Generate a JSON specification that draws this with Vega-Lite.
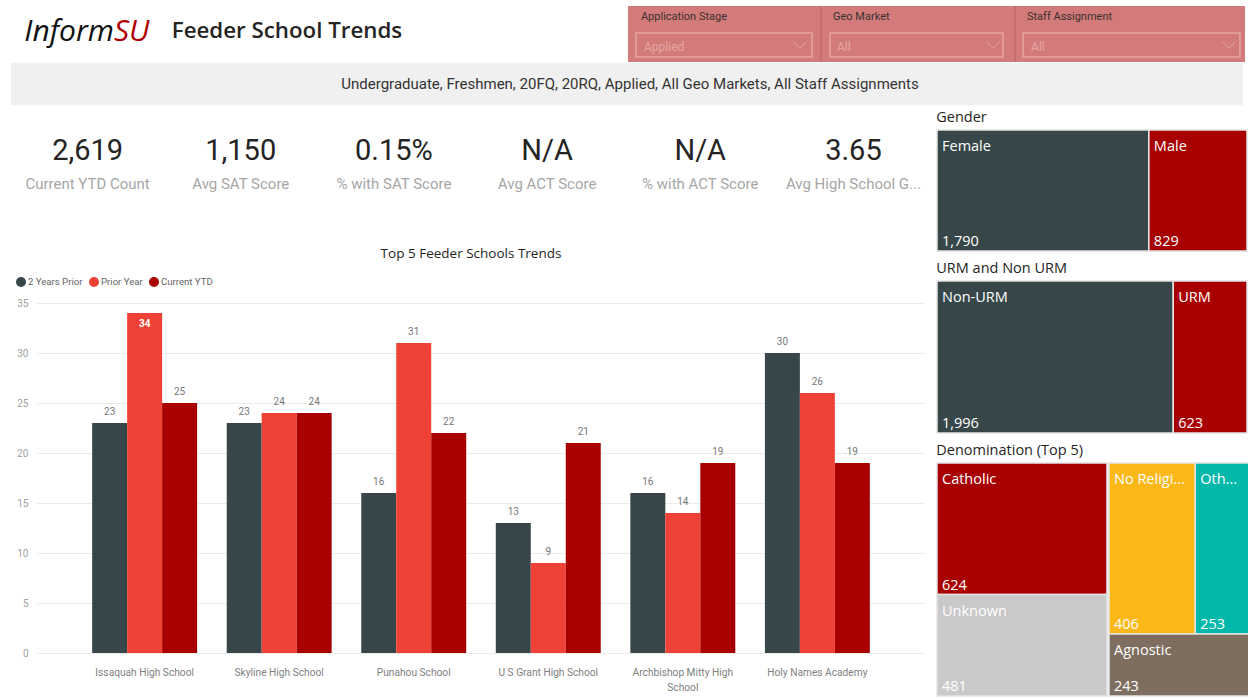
{
  "$schema": "https://vega.github.io/schema/vega-lite/v6.json",
  "padding": 0,
  "background": "#ffffff",
  "config": {"view": {"stroke": null}, "font": "Open Sans"},
  "datasets": {
    "titles": [{"logo": "Inform", "logoAccent": "SU", "page": "Feeder School Trends", "context": "Undergraduate, Freshmen, 20FQ, 20RQ, Applied, All Geo Markets, All Staff Assignments"}],
    "filters": [
      {"filter": "Application Stage", "selection": "Applied"},
      {"filter": "Geo Market", "selection": "All"},
      {"filter": "Staff Assignment", "selection": "All"}
    ],
    "kpis": [
      {"metric": "Current YTD Count", "value": "2,619"},
      {"metric": "Avg SAT Score", "value": "1,150"},
      {"metric": "% with SAT Score", "value": "0.15%"},
      {"metric": "Avg ACT Score", "value": "N/A"},
      {"metric": "% with ACT Score", "value": "N/A"},
      {"metric": "Avg High School GPA", "value": "3.65"}
    ],
    "schools": [
      {"school": "Issaquah High School", "period": "2 Years Prior", "count": 23},
      {"school": "Issaquah High School", "period": "Prior Year", "count": 34},
      {"school": "Issaquah High School", "period": "Current YTD", "count": 25},
      {"school": "Skyline High School", "period": "2 Years Prior", "count": 23},
      {"school": "Skyline High School", "period": "Prior Year", "count": 24},
      {"school": "Skyline High School", "period": "Current YTD", "count": 24},
      {"school": "Punahou School", "period": "2 Years Prior", "count": 16},
      {"school": "Punahou School", "period": "Prior Year", "count": 31},
      {"school": "Punahou School", "period": "Current YTD", "count": 22},
      {"school": "U S Grant High School", "period": "2 Years Prior", "count": 13},
      {"school": "U S Grant High School", "period": "Prior Year", "count": 9},
      {"school": "U S Grant High School", "period": "Current YTD", "count": 21},
      {"school": "Archbishop Mitty High School", "period": "2 Years Prior", "count": 16},
      {"school": "Archbishop Mitty High School", "period": "Prior Year", "count": 14},
      {"school": "Archbishop Mitty High School", "period": "Current YTD", "count": 19},
      {"school": "Holy Names Academy", "period": "2 Years Prior", "count": 30},
      {"school": "Holy Names Academy", "period": "Prior Year", "count": 26},
      {"school": "Holy Names Academy", "period": "Current YTD", "count": 19}
    ],
    "gender": [{"name": "Female", "value": 1790}, {"name": "Male", "value": 829}],
    "urm": [{"name": "Non-URM", "value": 1996}, {"name": "URM", "value": 623}],
    "denomination": [
      {"name": "Catholic", "value": 624},
      {"name": "Unknown", "value": 481},
      {"name": "No Religion", "value": 406},
      {"name": "Other", "value": 253},
      {"name": "Agnostic", "value": 243}
    ]
  },
  "vconcat": [
    {
      "hconcat": [
        {
          "width": 628, "height": 62,
          "data": {"name": "titles"},
          "layer": [
            {"mark": {"type": "text", "align": "right", "baseline": "middle", "dy": 1, "font": "Open Sans", "fontStyle": "italic", "fontSize": 30, "color": "#111111"},
             "encoding": {"x": {"datum": 0.1815, "type": "quantitative", "scale": {"domain": [0, 1]}, "axis": null}, "text": {"field": "logo"}}},
            {"mark": {"type": "text", "align": "left", "baseline": "middle", "dy": 1, "font": "Open Sans", "fontStyle": "italic", "fontSize": 30, "color": "#b00000"},
             "encoding": {"x": {"datum": 0.1815, "type": "quantitative"}, "text": {"field": "logoAccent"}}},
            {"mark": {"type": "text", "align": "center", "baseline": "middle", "font": "Open Sans", "fontWeight": 600, "fontSize": 22.3, "color": "#252423"},
             "encoding": {"x": {"datum": 0.457, "type": "quantitative"}, "text": {"field": "page"}}}
          ]
        },
        {
          "vconcat": [
            {"width": 1, "height": 5, "data": {"values": [{}]}, "mark": {"type": "rect", "opacity": 0}, "encoding": {}},
            {
              "hconcat": [
                {
                  "width": 193, "height": 56,
                  "view": {"fill": "#d37b7b", "stroke": null},
                  "data": {"name": "filters"},
                  "transform": [{"filter": "datum.filter == 'Application Stage'"}],
                  "layer": [
                    {"mark": {"type": "text", "align": "left", "baseline": "middle", "font": "Roboto", "fontSize": 11, "color": "#3a3030"},
                     "encoding": {"x": {"datum": 0.067, "type": "quantitative", "scale": {"domain": [0, 1]}, "axis": null}, "y": {"datum": 0.196, "type": "quantitative", "scale": {"domain": [0, 1], "reverse": true}, "axis": null}, "text": {"field": "filter"}}},
                    {"mark": {"type": "rect", "fillOpacity": 0, "stroke": "#e6a4a4", "strokeWidth": 1.5},
                     "encoding": {"x": {"datum": 0.041, "type": "quantitative"}, "x2": {"datum": 0.953}, "y": {"datum": 0.482, "type": "quantitative"}, "y2": {"datum": 0.911}}},
                    {"mark": {"type": "text", "align": "left", "baseline": "middle", "font": "Roboto", "fontSize": 12, "color": "#e7a6a6"},
                     "encoding": {"x": {"datum": 0.083, "type": "quantitative"}, "y": {"datum": 0.732, "type": "quantitative"}, "text": {"field": "selection"}}},
                    {"mark": {"type": "point", "shape": "M-1,-0.5L0,0.5L1,-0.5", "filled": false, "stroke": "#e7a6a6", "strokeWidth": 1, "size": 180, "opacity": 1},
                     "encoding": {"x": {"datum": 0.891, "type": "quantitative"}, "y": {"datum": 0.696, "type": "quantitative"}}}
                  ]
                },
                {
                  "width": 194, "height": 56,
                  "view": {"fill": "#d37b7b", "stroke": null},
                  "data": {"name": "filters"},
                  "transform": [{"filter": "datum.filter == 'Geo Market'"}],
                  "layer": [
                    {"mark": {"type": "rule", "color": "#c46464", "strokeWidth": 1.2},
                     "encoding": {"x": {"datum": 0, "type": "quantitative", "scale": {"domain": [0, 1]}, "axis": null}, "y": {"datum": 0, "type": "quantitative", "scale": {"domain": [0, 1], "reverse": true}, "axis": null}, "y2": {"datum": 1}}},
                    {"mark": {"type": "text", "align": "left", "baseline": "middle", "font": "Roboto", "fontSize": 11, "color": "#3a3030"},
                     "encoding": {"x": {"datum": 0.062, "type": "quantitative"}, "y": {"datum": 0.196, "type": "quantitative"}, "text": {"field": "filter"}}},
                    {"mark": {"type": "rect", "fillOpacity": 0, "stroke": "#e6a4a4", "strokeWidth": 1.5},
                     "encoding": {"x": {"datum": 0.046, "type": "quantitative"}, "x2": {"datum": 0.938}, "y": {"datum": 0.482, "type": "quantitative"}, "y2": {"datum": 0.911}}},
                    {"mark": {"type": "text", "align": "left", "baseline": "middle", "font": "Roboto", "fontSize": 12, "color": "#e7a6a6"},
                     "encoding": {"x": {"datum": 0.082, "type": "quantitative"}, "y": {"datum": 0.732, "type": "quantitative"}, "text": {"field": "selection"}}},
                    {"mark": {"type": "point", "shape": "M-1,-0.5L0,0.5L1,-0.5", "filled": false, "stroke": "#e7a6a6", "strokeWidth": 1, "size": 180, "opacity": 1},
                     "encoding": {"x": {"datum": 0.887, "type": "quantitative"}, "y": {"datum": 0.696, "type": "quantitative"}}}
                  ]
                },
                {
                  "width": 230, "height": 56,
                  "view": {"fill": "#d37b7b", "stroke": null},
                  "data": {"name": "filters"},
                  "transform": [{"filter": "datum.filter == 'Staff Assignment'"}],
                  "layer": [
                    {"mark": {"type": "rule", "color": "#c46464", "strokeWidth": 1.2},
                     "encoding": {"x": {"datum": 0, "type": "quantitative", "scale": {"domain": [0, 1]}, "axis": null}, "y": {"datum": 0, "type": "quantitative", "scale": {"domain": [0, 1], "reverse": true}, "axis": null}, "y2": {"datum": 1}}},
                    {"mark": {"type": "text", "align": "left", "baseline": "middle", "font": "Roboto", "fontSize": 11, "color": "#3a3030"},
                     "encoding": {"x": {"datum": 0.052, "type": "quantitative"}, "y": {"datum": 0.196, "type": "quantitative"}, "text": {"field": "filter"}}},
                    {"mark": {"type": "rect", "fillOpacity": 0, "stroke": "#e6a4a4", "strokeWidth": 1.5},
                     "encoding": {"x": {"datum": 0.035, "type": "quantitative"}, "x2": {"datum": 0.978}, "y": {"datum": 0.482, "type": "quantitative"}, "y2": {"datum": 0.911}}},
                    {"mark": {"type": "text", "align": "left", "baseline": "middle", "font": "Roboto", "fontSize": 12, "color": "#e7a6a6"},
                     "encoding": {"x": {"datum": 0.07, "type": "quantitative"}, "y": {"datum": 0.732, "type": "quantitative"}, "text": {"field": "selection"}}},
                    {"mark": {"type": "point", "shape": "M-1,-0.5L0,0.5L1,-0.5", "filled": false, "stroke": "#e7a6a6", "strokeWidth": 1, "size": 180, "opacity": 1},
                     "encoding": {"x": {"datum": 0.93, "type": "quantitative"}, "y": {"datum": 0.696, "type": "quantitative"}}}
                  ]
                }
              ],
              "spacing": 0, "bounds": "flush"
            }
          ],
          "spacing": 0
        }
      ],
      "spacing": 0
    },
    {
      "hconcat": [
        {"width": 11, "height": 1, "data": {"values": [{}]}, "mark": {"type": "rect", "opacity": 0}, "encoding": {}},
        {
          "width": 1232, "height": 42,
          "view": {"fill": "#f0f0f0", "stroke": null},
          "data": {"name": "titles"},
          "mark": {"type": "text", "align": "center", "baseline": "middle", "dx": 3, "font": "Roboto", "fontSize": 15, "color": "#333333"},
          "encoding": {"text": {"field": "context"}}
        }
      ],
      "spacing": 0, "bounds": "flush"
    },
    {
      "hconcat": [
        {"width": 11, "height": 1, "data": {"values": [{}]}, "mark": {"type": "rect", "opacity": 0}, "encoding": {}},
        {
          "vconcat": [
            {
              "width": 919, "height": 141,
              "data": {"name": "kpis"},
              "encoding": {"x": {"field": "metric", "type": "nominal", "sort": null, "scale": {"paddingInner": 0, "paddingOuter": 0}, "axis": null}},
              "layer": [
                {"mark": {"type": "text", "baseline": "middle", "font": "Roboto", "fontSize": 29, "color": "#252423"},
                 "encoding": {"y": {"datum": 0.326, "type": "quantitative", "scale": {"domain": [0, 1], "reverse": true}, "axis": null}, "text": {"field": "value"}}},
                {"mark": {"type": "text", "baseline": "middle", "font": "Roboto", "fontSize": 15, "color": "#a6a6a6", "limit": 140, "ellipsis": "..."},
                 "encoding": {"y": {"datum": 0.56, "type": "quantitative"}, "text": {"field": "metric"}}}
              ]
            },
            {
              "hconcat": [
                {"width": 26, "height": 1, "data": {"values": [{}]}, "mark": {"type": "rect", "opacity": 0}, "encoding": {}},
                {
                  "width": 888, "height": 350,
                  "title": {"text": "Top 5 Feeder Schools Trends", "anchor": "middle", "frame": "group", "dx": -10, "offset": 17, "font": "Open Sans", "fontSize": 13.5, "fontWeight": "normal", "color": "#252423"},
                  "data": {"name": "schools"},
                  "encoding": {
                    "x": {"field": "school", "type": "nominal", "sort": null, "scale": {"paddingInner": 0.22, "paddingOuter": 0.41},
                          "axis": {"title": null, "domain": false, "ticks": false, "labelAngle": 0, "labelPadding": 14, "labelColor": "#808080", "labelFontSize": 10.2, "labelFont": "Roboto", "labelLineHeight": 15,
                                   "labelExpr": "datum.label == 'Archbishop Mitty High School' ? ['Archbishop Mitty High', 'School'] : datum.label"}},
                    "xOffset": {"field": "period", "type": "nominal", "sort": ["2 Years Prior", "Prior Year", "Current YTD"], "scale": {"paddingInner": 0, "paddingOuter": 0}},
                    "y": {"field": "count", "type": "quantitative", "scale": {"domain": [0, 35], "nice": false},
                          "axis": {"title": null, "domain": false, "ticks": false, "values": [0, 5, 10, 15, 20, 25, 30, 35], "gridColor": "#ebebeb", "labelColor": "#a0a0a0", "labelFontSize": 10, "labelFont": "Roboto", "labelPadding": 9}}
                  },
                  "layer": [
                    {"mark": {"type": "bar"},
                     "encoding": {"color": {"field": "period", "type": "nominal", "sort": ["2 Years Prior", "Prior Year", "Current YTD"],
                       "scale": {"domain": ["2 Years Prior", "Prior Year", "Current YTD"], "range": ["#374649", "#ef4136", "#a80000"]},
                       "legend": {"orient": "none", "legendX": -21, "legendY": -26, "direction": "horizontal", "title": null, "symbolType": "circle", "symbolSize": 100, "symbolStrokeWidth": 0, "labelFontSize": 9.6, "labelFont": "Roboto", "labelColor": "#666666", "labelOffset": 2, "columnPadding": 6}}}},
                    {"transform": [{"filter": "datum.count < 34"}],
                     "mark": {"type": "text", "baseline": "bottom", "dy": -6, "font": "Roboto", "fontSize": 10, "color": "#777777"},
                     "encoding": {"text": {"field": "count", "type": "quantitative"}}},
                    {"transform": [{"filter": "datum.count >= 34"}],
                     "mark": {"type": "text", "baseline": "top", "dy": 6, "font": "Roboto", "fontSize": 10, "fontWeight": "bold", "color": "#ffffff"},
                     "encoding": {"text": {"field": "count", "type": "quantitative"}}}
                  ]
                }
              ],
              "spacing": 0, "bounds": "flush",
              "resolve": {"scale": {"color": "independent"}, "legend": {"color": "independent"}}
            }
          ],
          "spacing": 0,
          "resolve": {"scale": {"color": "independent"}, "legend": {"color": "independent"}}
        },
        {
          "hconcat": [
            {"width": 6, "height": 1, "data": {"values": [{}]}, "mark": {"type": "rect", "opacity": 0}, "encoding": {}},
            {
              "vconcat": [
                {"width": 1, "height": 4, "data": {"values": [{}]}, "mark": {"type": "rect", "opacity": 0}, "encoding": {}},
                {
                  "vconcat": [
                    {
                      "width": 310, "height": 121,
                      "title": {"text": "Gender", "anchor": "start", "fontSize": 14.5, "fontWeight": "normal", "font": "Open Sans", "color": "#252423", "offset": 4},
                      "data": {"name": "gender"},
                      "transform": [{"stack": "value", "groupby": [], "offset": "normalize", "sort": [{"field": "value", "order": "descending"}], "as": ["v0", "v1"]}],
                      "layer": [
                        {"mark": {"type": "rect", "stroke": "#e3e3e3", "strokeWidth": 1.5},
                         "encoding": {"x": {"field": "v0", "type": "quantitative", "scale": {"domain": [0, 1]}, "axis": null}, "x2": {"field": "v1"},
                                      "y": {"datum": 0, "type": "quantitative", "scale": {"domain": [0, 1]}, "axis": null}, "y2": {"datum": 1},
                                      "fill": {"field": "name", "type": "nominal", "scale": {"domain": ["Female", "Male", "Non-URM", "URM", "Catholic", "Unknown", "No Religion", "Other", "Agnostic"], "range": ["#374649", "#a80000", "#374649", "#a80000", "#a80000", "#c9c9c9", "#fbb817", "#02b8aa", "#7e6e5f"]}, "legend": null}}},
                        {"mark": {"type": "text", "align": "left", "baseline": "top", "dx": 5, "dy": 10, "color": "#ffffff", "font": "Open Sans", "fontSize": 14.5},
                         "encoding": {"x": {"field": "v0", "type": "quantitative"}, "y": {"datum": 1, "type": "quantitative"}, "text": {"field": "name"}}},
                        {"mark": {"type": "text", "align": "left", "baseline": "alphabetic", "dx": 5, "dy": -5, "color": "#ffffff", "font": "Open Sans", "fontSize": 14.5},
                         "encoding": {"x": {"field": "v0", "type": "quantitative"}, "y": {"datum": 0, "type": "quantitative"}, "text": {"field": "value", "type": "quantitative", "format": ","}}}
                      ]
                    },
                    {
                      "width": 310, "height": 152,
                      "title": {"text": "URM and Non URM", "anchor": "start", "fontSize": 14.5, "fontWeight": "normal", "font": "Open Sans", "color": "#252423", "offset": 4},
                      "data": {"name": "urm"},
                      "transform": [{"stack": "value", "groupby": [], "offset": "normalize", "sort": [{"field": "value", "order": "descending"}], "as": ["v0", "v1"]}],
                      "layer": [
                        {"mark": {"type": "rect", "stroke": "#e3e3e3", "strokeWidth": 1.5},
                         "encoding": {"x": {"field": "v0", "type": "quantitative", "scale": {"domain": [0, 1]}, "axis": null}, "x2": {"field": "v1"},
                                      "y": {"datum": 0, "type": "quantitative", "scale": {"domain": [0, 1]}, "axis": null}, "y2": {"datum": 1},
                                      "fill": {"field": "name", "type": "nominal", "scale": {"domain": ["Female", "Male", "Non-URM", "URM", "Catholic", "Unknown", "No Religion", "Other", "Agnostic"], "range": ["#374649", "#a80000", "#374649", "#a80000", "#a80000", "#c9c9c9", "#fbb817", "#02b8aa", "#7e6e5f"]}, "legend": null}}},
                        {"mark": {"type": "text", "align": "left", "baseline": "top", "dx": 5, "dy": 10, "color": "#ffffff", "font": "Open Sans", "fontSize": 14.5},
                         "encoding": {"x": {"field": "v0", "type": "quantitative"}, "y": {"datum": 1, "type": "quantitative"}, "text": {"field": "name"}}},
                        {"mark": {"type": "text", "align": "left", "baseline": "alphabetic", "dx": 5, "dy": -5, "color": "#ffffff", "font": "Open Sans", "fontSize": 14.5},
                         "encoding": {"x": {"field": "v0", "type": "quantitative"}, "y": {"datum": 0, "type": "quantitative"}, "text": {"field": "value", "type": "quantitative", "format": ","}}}
                      ]
                    },
                    {
                      "title": {"text": "Denomination (Top 5)", "anchor": "start", "fontSize": 14.5, "fontWeight": "normal", "font": "Open Sans", "color": "#252423", "offset": 4},
                      "hconcat": [
                        {
                          "width": 170, "height": 233,
                          "data": {"name": "denomination"},
                          "transform": [
                            {"filter": {"field": "name", "oneOf": ["Catholic", "Unknown"]}},
                            {"stack": "value", "groupby": [], "offset": "normalize", "sort": [{"field": "value", "order": "descending"}], "as": ["v0", "v1"]}
                          ],
                          "layer": [
                            {"mark": {"type": "rect", "stroke": "#e3e3e3", "strokeWidth": 1.5},
                             "encoding": {"y": {"field": "v0", "type": "quantitative", "scale": {"domain": [0, 1], "reverse": true}, "axis": null}, "y2": {"field": "v1"},
                                          "x": {"datum": 0, "type": "quantitative", "scale": {"domain": [0, 1]}, "axis": null}, "x2": {"datum": 1},
                                          "fill": {"field": "name", "type": "nominal", "scale": {"domain": ["Female", "Male", "Non-URM", "URM", "Catholic", "Unknown", "No Religion", "Other", "Agnostic"], "range": ["#374649", "#a80000", "#374649", "#a80000", "#a80000", "#c9c9c9", "#fbb817", "#02b8aa", "#7e6e5f"]}, "legend": null}}},
                            {"mark": {"type": "text", "align": "left", "baseline": "top", "dx": 5, "dy": 10, "color": "#ffffff", "font": "Open Sans", "fontSize": 14.5},
                             "encoding": {"x": {"datum": 0, "type": "quantitative"}, "y": {"field": "v0", "type": "quantitative"}, "text": {"field": "name"}}},
                            {"mark": {"type": "text", "align": "left", "baseline": "alphabetic", "dx": 5, "dy": -5, "color": "#ffffff", "font": "Open Sans", "fontSize": 14.5},
                             "encoding": {"x": {"datum": 0, "type": "quantitative"}, "y": {"field": "v1", "type": "quantitative"}, "text": {"field": "value", "type": "quantitative", "format": ","}}}
                          ]
                        },
                        {
                          "vconcat": [
                            {
                              "width": 140, "height": 171,
                              "data": {"name": "denomination"},
                              "transform": [
                                {"filter": {"field": "name", "oneOf": ["No Religion", "Other"]}},
                                {"stack": "value", "groupby": [], "offset": "normalize", "sort": [{"field": "value", "order": "descending"}], "as": ["v0", "v1"]}
                              ],
                              "layer": [
                                {"mark": {"type": "rect", "stroke": "#e3e3e3", "strokeWidth": 1.5},
                                 "encoding": {"x": {"field": "v0", "type": "quantitative", "scale": {"domain": [0, 1]}, "axis": null}, "x2": {"field": "v1"},
                                              "y": {"datum": 0, "type": "quantitative", "scale": {"domain": [0, 1]}, "axis": null}, "y2": {"datum": 1},
                                              "fill": {"field": "name", "type": "nominal", "scale": {"domain": ["Female", "Male", "Non-URM", "URM", "Catholic", "Unknown", "No Religion", "Other", "Agnostic"], "range": ["#374649", "#a80000", "#374649", "#a80000", "#a80000", "#c9c9c9", "#fbb817", "#02b8aa", "#7e6e5f"]}, "legend": null}}},
                                {"transform": [{"filter": "datum.name == 'No Religion'"}],
                                 "mark": {"type": "text", "align": "left", "baseline": "top", "dx": 5, "dy": 10, "color": "#ffffff", "font": "Open Sans", "fontSize": 14.5, "limit": 76, "ellipsis": "..."},
                                 "encoding": {"x": {"field": "v0", "type": "quantitative"}, "y": {"datum": 1, "type": "quantitative"}, "text": {"field": "name"}}},
                                {"transform": [{"filter": "datum.name == 'Other'"}],
                                 "mark": {"type": "text", "align": "left", "baseline": "top", "dx": 5, "dy": 10, "color": "#ffffff", "font": "Open Sans", "fontSize": 14.5, "limit": 39, "ellipsis": "..."},
                                 "encoding": {"x": {"field": "v0", "type": "quantitative"}, "y": {"datum": 1, "type": "quantitative"}, "text": {"field": "name"}}},
                                {"mark": {"type": "text", "align": "left", "baseline": "alphabetic", "dx": 5, "dy": -5, "color": "#ffffff", "font": "Open Sans", "fontSize": 14.5},
                                 "encoding": {"x": {"field": "v0", "type": "quantitative"}, "y": {"datum": 0, "type": "quantitative"}, "text": {"field": "value", "type": "quantitative", "format": ","}}}
                              ]
                            },
                            {
                              "width": 140, "height": 62,
                              "data": {"name": "denomination"},
                              "transform": [
                                {"filter": {"field": "name", "oneOf": ["Agnostic"]}},
                                {"stack": "value", "groupby": [], "offset": "normalize", "sort": [{"field": "value", "order": "descending"}], "as": ["v0", "v1"]}
                              ],
                              "layer": [
                                {"mark": {"type": "rect", "stroke": "#e3e3e3", "strokeWidth": 1.5},
                                 "encoding": {"x": {"field": "v0", "type": "quantitative", "scale": {"domain": [0, 1]}, "axis": null}, "x2": {"field": "v1"},
                                              "y": {"datum": 0, "type": "quantitative", "scale": {"domain": [0, 1]}, "axis": null}, "y2": {"datum": 1},
                                              "fill": {"field": "name", "type": "nominal", "scale": {"domain": ["Female", "Male", "Non-URM", "URM", "Catholic", "Unknown", "No Religion", "Other", "Agnostic"], "range": ["#374649", "#a80000", "#374649", "#a80000", "#a80000", "#c9c9c9", "#fbb817", "#02b8aa", "#7e6e5f"]}, "legend": null}}},
                                {"mark": {"type": "text", "align": "left", "baseline": "top", "dx": 5, "dy": 10, "color": "#ffffff", "font": "Open Sans", "fontSize": 14.5},
                                 "encoding": {"x": {"field": "v0", "type": "quantitative"}, "y": {"datum": 1, "type": "quantitative"}, "text": {"field": "name"}}},
                                {"mark": {"type": "text", "align": "left", "baseline": "alphabetic", "dx": 5, "dy": -5, "color": "#ffffff", "font": "Open Sans", "fontSize": 14.5},
                                 "encoding": {"x": {"field": "v0", "type": "quantitative"}, "y": {"datum": 0, "type": "quantitative"}, "text": {"field": "value", "type": "quantitative", "format": ","}}}
                              ]
                            }
                          ],
                          "spacing": 0, "bounds": "flush"
                        }
                      ],
                      "spacing": 0
                    }
                  ],
                  "spacing": 8
                }
              ],
              "spacing": 0
            }
          ],
          "spacing": 0
        }
      ],
      "spacing": 0,
      "resolve": {"scale": {"color": "independent"}, "legend": {"color": "independent"}}
    }
  ],
  "spacing": 0,
  "resolve": {"scale": {"color": "independent"}, "legend": {"color": "independent"}}
}
